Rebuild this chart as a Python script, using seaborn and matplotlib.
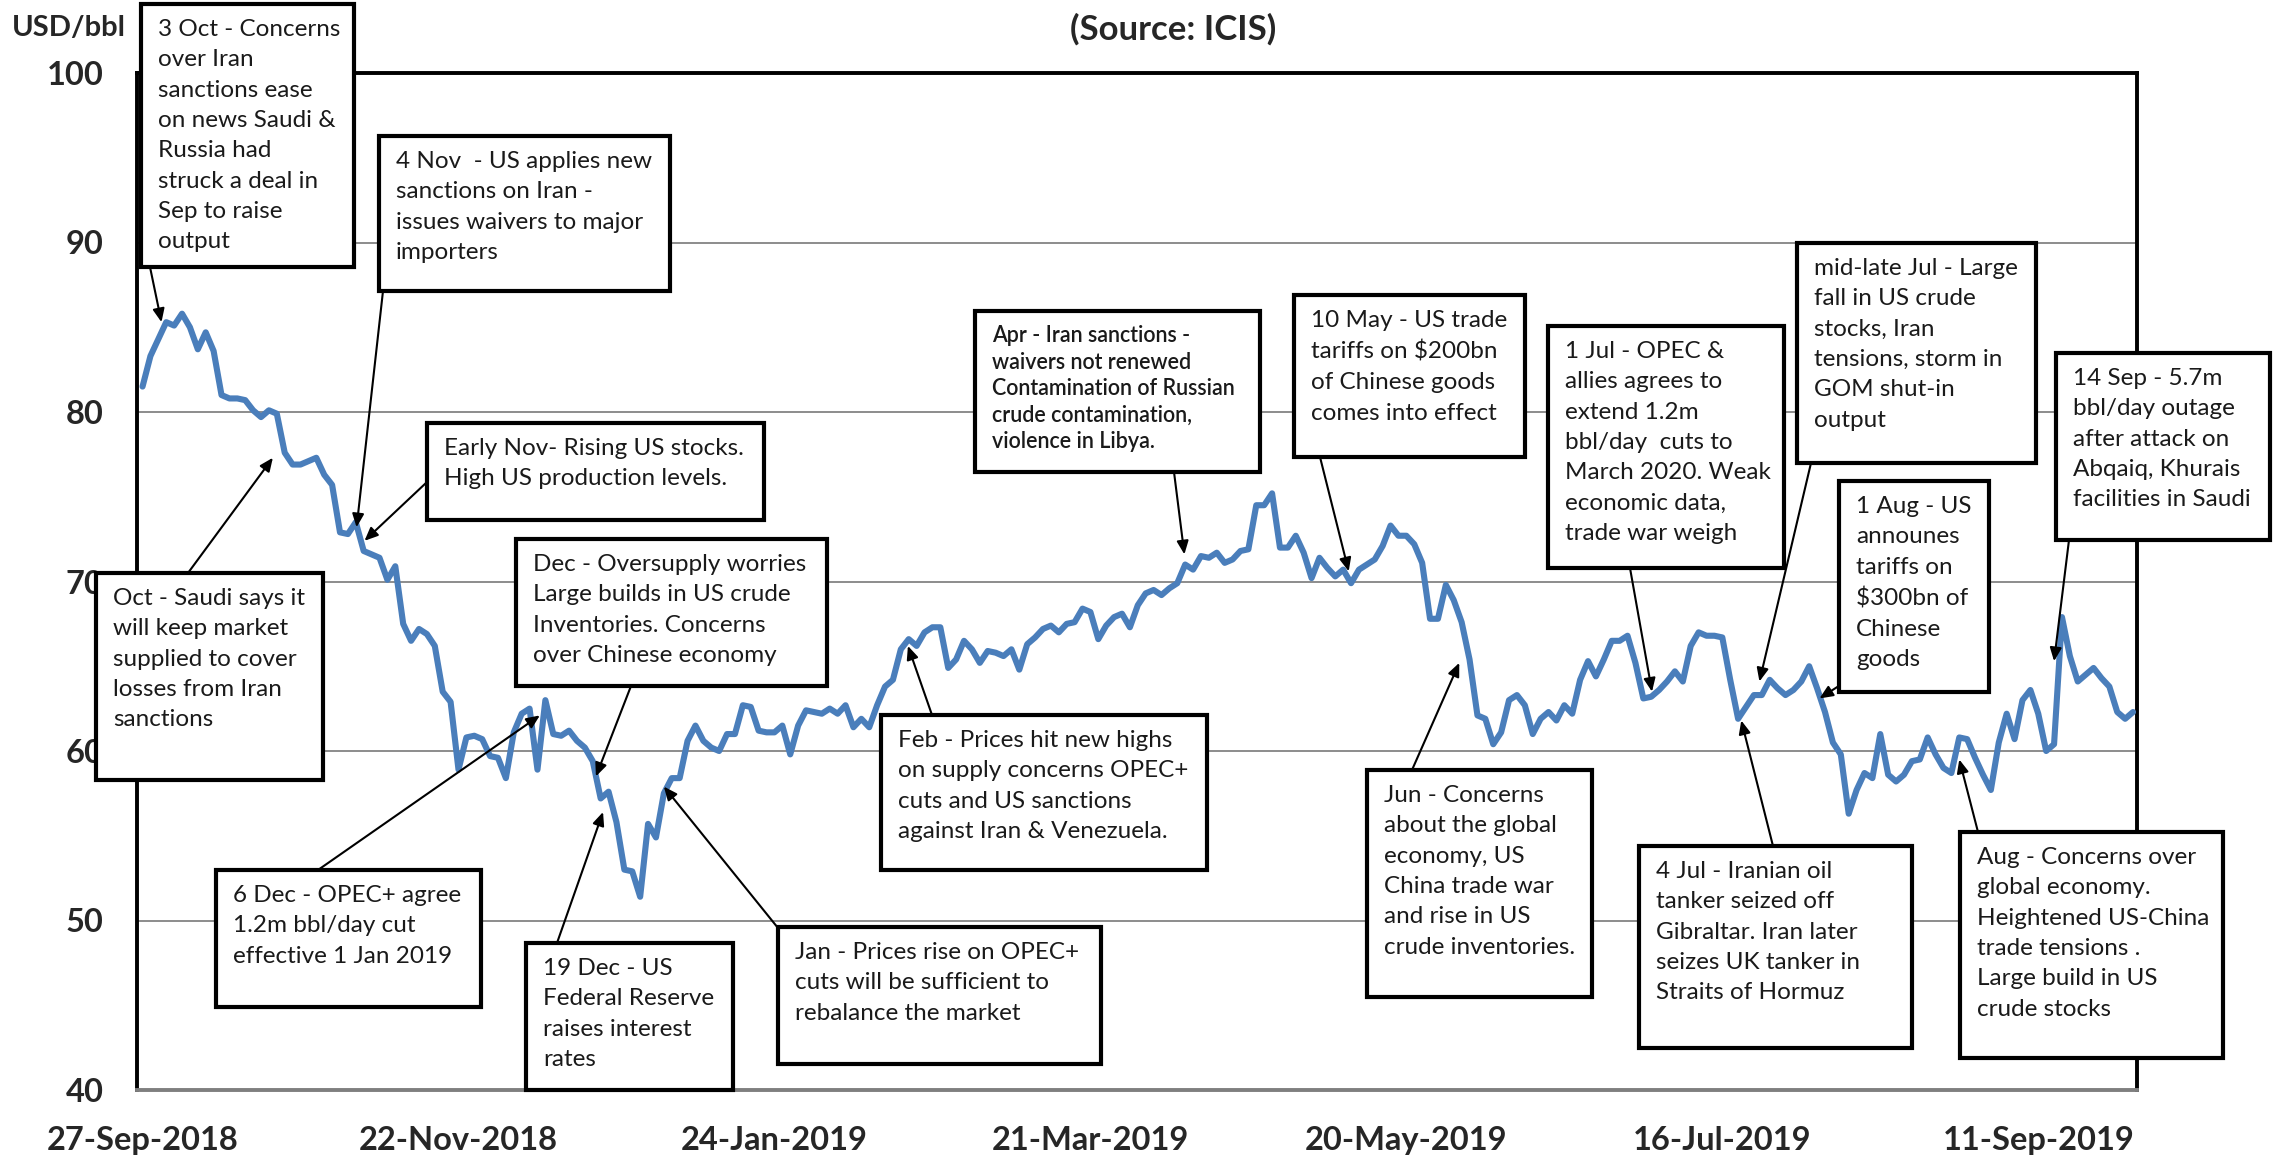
import seaborn as sns
import matplotlib.pyplot as plt
import pandas as pd
import numpy as np
from matplotlib.patches import Rectangle

# ---------------------------
# 1. Data (trading-day index 0..252)
# ---------------------------
days = list(range(253))
prices = [
    81.5, 83.3, 84.3, 85.3, 85.1, 85.8, 85.0, 83.7, 84.7, 83.6,
    81.0, 80.8, 80.8, 80.7, 80.1, 79.7, 80.1, 79.9, 77.6, 76.9,
    76.9, 77.1, 77.3, 76.3, 75.7, 72.9, 72.8, 73.5, 71.8, 71.6,
    71.4, 70.1, 70.9, 67.5, 66.5, 67.2, 66.9, 66.2, 63.5, 62.9,
    58.9, 60.8, 60.9, 60.7, 59.7, 59.6, 58.4, 61.1, 62.2, 62.5,
    58.9, 63.0, 61.0, 60.9, 61.2, 60.6, 60.2, 59.4, 57.2, 57.6,
    55.8, 53.0, 52.9, 51.4, 55.7, 54.9, 57.5, 58.4, 58.4, 60.6,
    61.5, 60.6, 60.2, 60.0, 61.0, 61.0, 62.7, 62.6, 61.2, 61.1,
    61.1, 61.5, 59.8, 61.5, 62.4, 62.3, 62.2, 62.5, 62.2, 62.7,
    61.4, 61.9, 61.4, 62.7, 63.8, 64.2, 66.0, 66.6, 66.2, 67.0,
    67.3, 67.3, 64.9, 65.4, 66.5, 66.0, 65.2, 65.9, 65.8, 65.6,
    66.0, 64.8, 66.3, 66.7, 67.2, 67.4, 67.0, 67.5, 67.6, 68.4,
    68.2, 66.6, 67.4, 67.9, 68.1, 67.3, 68.6, 69.3, 69.5, 69.2,
    69.6, 69.9, 71.0, 70.7, 71.5, 71.4, 71.7, 71.1, 71.3, 71.8,
    71.9, 74.5, 74.5, 75.2, 72.0, 72.0, 72.7, 71.7, 70.2, 71.4,
    70.8, 70.3, 70.7, 69.9, 70.7, 71.0, 71.3, 72.1, 73.3, 72.7,
    72.7, 72.2, 71.1, 67.8, 67.8, 69.8, 68.9, 67.6, 65.4, 62.1,
    61.9, 60.4, 61.1, 63.0, 63.3, 62.7, 61.0, 61.9, 62.3, 61.8,
    62.7, 62.2, 64.2, 65.3, 64.4, 65.4, 66.5, 66.5, 66.8, 65.2,
    63.1, 63.2, 63.6, 64.1, 64.7, 64.1, 66.2, 67.0, 66.8, 66.8,
    66.7, 64.2, 61.9, 62.6, 63.3, 63.3, 64.2, 63.7, 63.3, 63.6,
    64.1, 65.0, 63.7, 62.3, 60.5, 59.8, 56.3, 57.7, 58.7, 58.4,
    61.0, 58.6, 58.2, 58.6, 59.4, 59.5, 60.8, 59.8, 59.0, 58.7,
    60.8, 60.7, 59.6, 58.6, 57.7, 60.5, 62.2, 60.7, 63.0, 63.6,
    62.2, 60.0, 60.4, 67.9, 65.6, 64.1, 64.5, 64.9, 64.3, 63.8,
    62.3, 61.9, 62.3,
]
tick_days = [0, 40, 80, 120, 160, 200, 240]
tick_labels = ["27-Sep-2018", "22-Nov-2018", "24-Jan-2019", "21-Mar-2019",
               "20-May-2019", "16-Jul-2019", "11-Sep-2019"]

# event notes: text, arrow target (day, price)
event_texts = [
    "3 Oct - Concerns\nover Iran\nsanctions ease\non news Saudi &\nRussia had\nstruck a deal in\nSep to raise\noutput",
    "4 Nov  - US applies new\nsanctions on Iran -\nissues waivers to major\nimporters",
    "Early Nov- Rising US stocks.\nHigh US production levels.",
    "Oct - Saudi says it\nwill keep market\nsupplied to cover\nlosses from Iran\nsanctions",
    "Dec - Oversupply worries\nLarge builds in US crude\nInventories. Concerns\nover Chinese economy",
    "6 Dec - OPEC+ agree\n1.2m bbl/day cut\neffective 1 Jan 2019",
    "19 Dec - US\nFederal Reserve\nraises interest\nrates",
    "Jan - Prices rise on OPEC+\ncuts will be sufficient to\nrebalance the market",
    "Feb - Prices hit new highs\non supply concerns OPEC+\ncuts and US sanctions\nagainst Iran & Venezuela.",
    "Apr - Iran sanctions -\nwaivers not renewed\nContamination of Russian\ncrude contamination,\nviolence in Libya.",
    "10 May - US trade\ntariffs on \\$200bn\nof Chinese goods\ncomes into effect",
    "1 Jul - OPEC &\nallies agrees to\nextend 1.2m\nbbl/day  cuts to\nMarch 2020. Weak\neconomic data,\ntrade war weigh",
    "mid-late Jul - Large\nfall in US crude\nstocks, Iran\ntensions, storm in\nGOM shut-in\noutput",
    "1 Aug - US\nannounes\ntariffs on\n\\$300bn of\nChinese\ngoods",
    "14 Sep - 5.7m\nbbl/day outage\nafter attack on\nAbqaiq, Khurais\nfacilities in Saudi",
    "Jun - Concerns\nabout the global\neconomy, US\nChina trade war\nand rise in US\ncrude inventories.",
    "4 Jul - Iranian oil\ntanker seized off\nGibraltar. Iran later\nseizes UK tanker in\nStraits of Hormuz",
    "Aug - Concerns over\nglobal economy.\nHeightened US-China\ntrade tensions .\nLarge build in US\ncrude stocks",
]
event_days = [2.4, 27.1, 28.1, 16.5, 57.4, 50.3, 58.3, 66.0, 96.9, 131.9,
              152.7, 191.1, 204.7, 212.3, 242.0, 166.7, 202.4, 230.0]
event_prices = [85.3, 73.2, 72.4, 77.3, 58.5, 62.1, 56.4, 57.9, 66.2, 71.6,
                70.6, 63.5, 64.1, 63.1, 65.3, 65.2, 61.8, 59.5]

# layout of the note boxes in figure pixels (x0, y0, x1, y1 from top-left)
boxes = [
    (141, 4, 354, 267), (379, 136, 670, 291), (427, 423, 764, 520),
    (96, 573, 323, 780), (516, 539, 827, 686), (216, 870, 481, 1007),
    (526, 943, 733, 1090), (778, 927, 1101, 1064), (881, 715, 1207, 870),
    (975, 311, 1260, 472), (1294, 295, 1525, 457), (1548, 326, 1784, 568),
    (1797, 243, 2036, 463), (1839, 481, 1989, 692), (2056, 353, 2270, 540),
    (1367, 770, 1592, 997), (1639, 846, 1912, 1048), (1960, 832, 2223, 1058),
]
arrow_starts = [
    (150, 267), (383, 291), (427, 482), (188, 573), (631, 686), (318, 870),
    (557, 943), (778, 928), (932, 715), (1174, 472), (1320, 457), (1630, 568),
    (1811, 463), (1845, 682), (2069, 540), (1412, 770), (1773, 846), (1978, 832),
]

df = pd.DataFrame({"day": days, "price": prices})

# ---------------------------
# 2. Styling
# ---------------------------
sns.set_style("white")
plt.rcParams["font.family"] = ["Lato", "DejaVu Sans"]

W, H = 2285, 1157
fig = plt.figure(figsize=(W / 100, H / 100), dpi=100)
ax = fig.add_axes([137 / W, 1 - 1090 / H, 2000 / W, 1017 / H])

# ---------------------------
# 3. Line
# ---------------------------
sns.lineplot(data=df, x="day", y="price", ax=ax, color="#4A7EBB",
             linewidth=4.4, zorder=3)

ax.set_xlim(-0.7, 252.5)
ax.set_ylim(40, 100)
ax.set_yticks(range(40, 101, 10))
ax.set_xticks(tick_days)
ax.set_xticklabels(tick_labels)
ax.set_xlabel("")
ax.set_ylabel("")
ax.yaxis.grid(True, color="#8c8c8c", linewidth=1.4)
ax.xaxis.grid(False)
ax.tick_params(axis="both", length=0, labelsize=23.5)
ax.tick_params(axis="x", pad=26)
ax.tick_params(axis="y", pad=24)
for lab in ax.get_xticklabels() + ax.get_yticklabels():
    lab.set_fontweight("bold")
for side in ["left", "top", "right"]:
    ax.spines[side].set_color("black")
    ax.spines[side].set_linewidth(2.8)
ax.spines["bottom"].set_color("#7f7f7f")
ax.spines["bottom"].set_linewidth(2.8)

# ---------------------------
# 4. Notes and arrows
# ---------------------------
for i, txt in enumerate(event_texts):
    x0, y0, x1, y1 = boxes[i]
    fig.add_artist(Rectangle((x0 / W, 1 - y1 / H), (x1 - x0) / W, (y1 - y0) / H,
                             transform=fig.transFigure, facecolor="white",
                             edgecolor="black", linewidth=3, zorder=5))
    small = txt.startswith("Apr")
    fig.text((x0 + 17) / W, 1 - (y0 + (14 if small else 15)) / H, txt,
             ha="left", va="top", fontsize=15.5 if small else 17.5,
             fontweight="semibold" if small else "normal",
             color="#1a1a1a", linespacing=1.33 if small else 1.55, zorder=6)
    sx, sy = arrow_starts[i]
    ax.annotate("", xy=(event_days[i], event_prices[i]), xycoords="data",
                xytext=(sx, H - sy), textcoords="figure pixels",
                arrowprops=dict(arrowstyle="-|>,head_length=0.8,head_width=0.35",
                                color="black", lw=1.5, shrinkA=0, shrinkB=0),
                annotation_clip=False, zorder=4)

# ---------------------------
# 5. Titles
# ---------------------------
fig.text(12 / W, 1 - 28 / H, "USD/bbl", fontsize=21, fontweight="bold",
         ha="left", va="center")
fig.text(1173 / W, 1 - 29 / H, "(Source: ICIS)", fontsize=25, fontweight="bold",
         ha="center", va="center")

plt.savefig("out.png", dpi=100)
plt.close()
